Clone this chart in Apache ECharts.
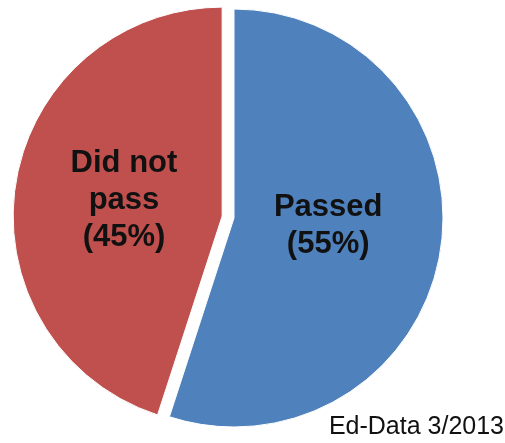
<!DOCTYPE html>
<html><head><meta charset="utf-8">
<script src="https://cdn.jsdelivr.net/npm/echarts@6/dist/echarts.min.js"></script>
<style>html,body{margin:0;padding:0;background:#fff}#c{width:505px;height:443px}</style>
</head><body><div id="c"></div>
<script>
const categories = ['Passed', 'Did not pass'];
const values = [55, 45];
const labelNames = ['Passed', 'Did not\npass'];
const colors = ['#4F81BD', '#C0504D'];
const source = 'Ed-Data 3/2013';

const chart = echarts.init(document.getElementById('c'));
chart.setOption({
  backgroundColor: '#fff',
  animation: false,
  series: [{
    type: 'pie',
    center: [234, 218],
    radius: [0, 209],
    startAngle: 90,
    clockwise: true,
    selectedMode: 'single',
    selectedOffset: 12,
    label: {
      show: true,
      position: 'inside',
      fontFamily: 'Liberation Sans, Arial, sans-serif',
      fontWeight: 'bold',
      fontSize: 31,
      lineHeight: 37,
      color: '#111',
      formatter: p => labelNames[p.dataIndex] + '\n(' + p.value + '%)'
    },
    labelLayout: p => p.dataIndex === 0 ? {dx: -12, dy: -9} : {dx: 8, dy: 1},
    itemStyle: {borderColor: '#fff', borderWidth: 1},
    emphasis: {disabled: true},
    data: categories.map((c, i) => ({
      name: c, value: values[i], selected: i === 1,
      itemStyle: {color: colors[i]}
    }))
  }],
  graphic: [{
    type: 'text', right: 1, bottom: 3,
    style: {text: source, font: '25px "Liberation Sans", Arial, sans-serif', fill: '#111'}
  }]
});
</script></body></html>
